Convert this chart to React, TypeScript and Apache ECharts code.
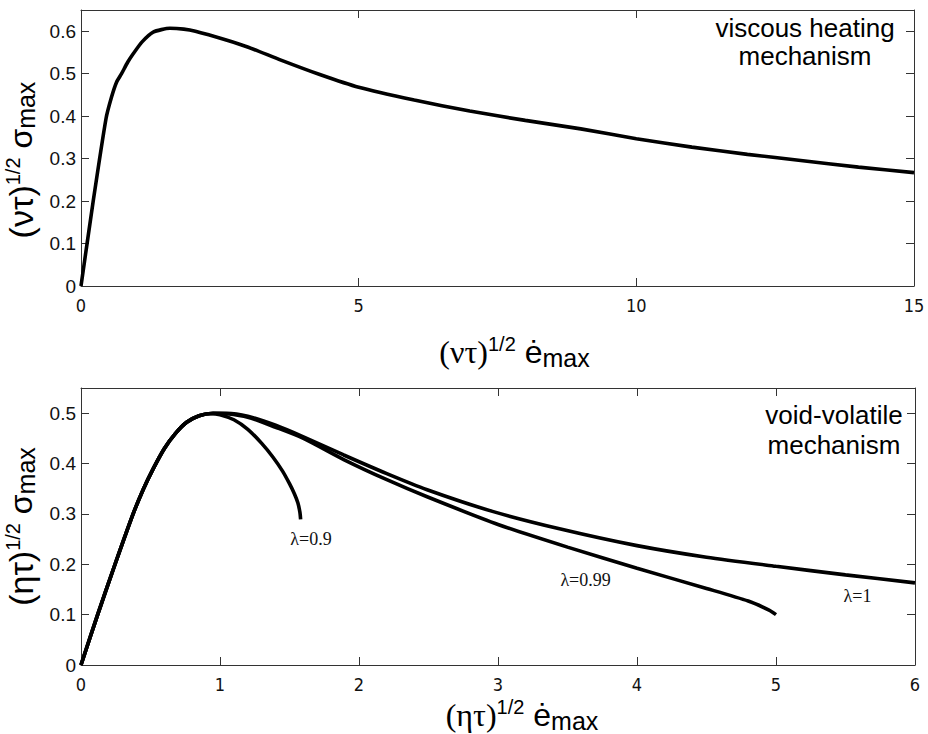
import React, { useEffect, useRef } from "react";
import * as echarts from "echarts";

// Top panel: viscous heating mechanism
const topX = [0, 0.22, 0.45, 0.55, 0.64, 0.73, 0.84, 0.94, 1.1, 1.3, 1.6, 1.85, 2.06, 2.6, 3.0, 3.6, 4.3, 5, 6, 7, 8, 9, 10, 11, 12, 13, 14, 15];
const topY = [0, 0.2, 0.394, 0.445, 0.48, 0.5, 0.527, 0.547, 0.575, 0.598, 0.607, 0.605, 0.6, 0.58, 0.563, 0.532, 0.498, 0.468, 0.438, 0.412, 0.39, 0.37, 0.347, 0.327, 0.31, 0.295, 0.28, 0.267];

// Bottom panel: void-volatile mechanism
const lam1X = [0, 0.12, 0.245, 0.375, 0.45, 0.52, 0.6, 0.68, 0.76, 0.85, 0.95, 1.05, 1.2, 1.4, 1.6, 1.89, 2.2, 2.49, 2.96, 3.45, 4.0, 4.5, 5.0, 5.5, 6.0];
const lam1Y = [0, 0.1, 0.2, 0.3, 0.35, 0.39, 0.43, 0.46, 0.482, 0.495, 0.5, 0.5, 0.494, 0.476, 0.453, 0.417, 0.38, 0.348, 0.305, 0.27, 0.237, 0.214, 0.196, 0.179, 0.163];

const lam099X = [0, 0.12, 0.245, 0.375, 0.45, 0.52, 0.6, 0.68, 0.76, 0.85, 0.95, 1.05, 1.2, 1.4, 1.6, 1.89, 2.2, 2.49, 3.0, 3.5, 4.0, 4.5, 4.8, 4.95, 5.0];
const lam099Y = [0, 0.1, 0.2, 0.3, 0.35, 0.39, 0.43, 0.46, 0.482, 0.495, 0.5, 0.499, 0.492, 0.472, 0.45, 0.408, 0.368, 0.334, 0.279, 0.234, 0.192, 0.152, 0.127, 0.109, 0.1];

const lam09X = [0, 0.12, 0.245, 0.375, 0.45, 0.52, 0.6, 0.68, 0.76, 0.85, 0.93, 1.0, 1.1, 1.2, 1.3, 1.38, 1.45, 1.5, 1.535, 1.56, 1.575, 1.58];
const lam09Y = [0, 0.1, 0.2, 0.3, 0.35, 0.39, 0.43, 0.46, 0.482, 0.495, 0.499, 0.497, 0.487, 0.468, 0.44, 0.413, 0.385, 0.36, 0.34, 0.322, 0.303, 0.289];

const topXTicks = { min: 0, max: 15, interval: 5 };
const topYTicks = { min: 0, max: 0.65, interval: 0.1 };
const botXTicks = { min: 0, max: 6, interval: 1 };
const botYTicks = { min: 0, max: 0.55, interval: 0.1 };

const lambdaLabels = [
  { text: "λ=0.9", x: 1.655, y: 0.25 },
  { text: "λ=0.99", x: 3.63, y: 0.168 },
  { text: "λ=1", x: 5.586, y: 0.137 },
];

const zip = (xs: number[], ys: number[]) => xs.map((x, i) => [x, ys[i]]);

const SANS = "'Liberation Sans', Arial, Helvetica, sans-serif";
const NARROW = "'Liberation Sans Narrow', 'DejaVu Sans Condensed', 'Liberation Sans', Arial, sans-serif";
const SERIF = "'Liberation Serif', 'Times New Roman', serif";
const AX = "#333";

const lineStyle = { color: AX, width: 1 };

function nameRich(serifParen: boolean) {
  return {
    p: { fontSize: serifParen ? 32 : 34, fontFamily: serifParen ? SERIF : SANS, color: "#000", lineHeight: 36 },
    s: { fontSize: 20, fontFamily: SANS, color: "#000", verticalAlign: "top", lineHeight: 20 },
    g: { fontSize: 32, fontFamily: SANS, color: "#000", lineHeight: 36 },
    b: { fontSize: 25, fontFamily: SANS, color: "#000", verticalAlign: "bottom", lineHeight: 25 },
  };
}

function xAxes(gridIndex: number, t: any, name: string, nameGap: number, padLeft: number) {
  return [
    {
      gridIndex,
      type: "value",
      ...t,
      position: "bottom",
      axisLine: { onZero: false, lineStyle },
      axisTick: { inside: true, length: 8, lineStyle },
      axisLabel: { fontSize: 18, fontFamily: NARROW, color: "#111", margin: 10, showMaxLabel: true },
      splitLine: { show: false },
      name,
      nameLocation: "middle",
      nameGap,
      nameTextStyle: { rich: nameRich(true), padding: [0, 0, 0, padLeft] },
    },
    {
      gridIndex,
      type: "value",
      ...t,
      position: "top",
      axisLine: { onZero: false, lineStyle },
      axisTick: { inside: true, length: 8, lineStyle },
      axisLabel: { show: false },
      splitLine: { show: false },
    },
  ];
}

function yAxes(gridIndex: number, t: any, name: string, nameGap: number, padRight: number) {
  return [
    {
      gridIndex,
      type: "value",
      ...t,
      position: "left",
      axisLine: { onZero: false, lineStyle },
      axisTick: { inside: true, length: 8, lineStyle },
      axisLabel: { fontSize: 19, fontFamily: SANS, color: "#111", margin: 5, showMaxLabel: false },
      splitLine: { show: false },
      name,
      nameLocation: "middle",
      nameGap,
      nameTextStyle: { rich: nameRich(false), padding: [0, padRight, 0, 0] },
    },
    {
      gridIndex,
      type: "value",
      ...t,
      position: "right",
      axisLine: { onZero: false, lineStyle },
      axisTick: { inside: true, length: 8, lineStyle },
      axisLabel: { show: false },
      splitLine: { show: false },
    },
  ];
}

export default function App() {
  const ref = useRef<HTMLDivElement>(null);
  useEffect(() => {
    if (!ref.current) return;
    const chart = echarts.init(ref.current, null, { renderer: "svg" });
    const curve = { type: "line", showSymbol: false, symbol: "none", lineStyle: { color: "#000", width: 3.6 }, z: 3 };
    const option: any = {
      animation: false,
      backgroundColor: "#fff",
      grid: [
        { left: 81, right: 14, top: 10, height: 276, containLabel: false, outerBoundsMode: "none" },
        { left: 81, right: 13, top: 388, height: 277, containLabel: false, outerBoundsMode: "none" },
      ],
      xAxis: [
        ...xAxes(0, topXTicks, "{p|(ντ)}{s|1/2}{g| ė}{b|max}", 48, 34),
        ...xAxes(1, botXTicks, "{p|(ητ)}{s|1/2}{g| ė}{b|max}", 32, 48),
      ],
      yAxis: [
        ...yAxes(0, topYTicks, "{p|(ντ)}{s|1/2}{g| σ}{b|max}", 38, 24),
        ...yAxes(1, botYTicks, "{p|(ητ)}{s|1/2}{g| σ}{b|max}", 36, 0),
      ],
      series: [
        { ...curve, name: "viscous", xAxisIndex: 0, yAxisIndex: 0, smooth: 0.2, data: zip(topX, topY) },
        { ...curve, name: "λ=1", xAxisIndex: 2, yAxisIndex: 2, smooth: 0.25, data: zip(lam1X, lam1Y) },
        { ...curve, name: "λ=0.99", xAxisIndex: 2, yAxisIndex: 2, smooth: 0.25, data: zip(lam099X, lam099Y) },
        {
          ...curve,
          name: "λ=0.9",
          xAxisIndex: 2,
          yAxisIndex: 2,
          smooth: 0.25,
          data: zip(lam09X, lam09Y),
          markPoint: {
            symbol: "circle",
            symbolSize: 1,
            itemStyle: { color: "rgba(0,0,0,0)" },
            label: { show: true, position: "inside", fontFamily: SERIF, fontSize: 18, color: "#111", formatter: (p: any) => p.name },
            data: lambdaLabels.map((l) => ({ name: l.text, coord: [l.x, l.y] })),
          },
        },
      ],
      graphic: [
        {
          type: "text",
          x: 805,
          y: 14,
          style: { text: "viscous heating\nmechanism", font: `26px ${SANS}`, fill: "#000", textAlign: "center", textVerticalAlign: "top", lineHeight: 28 },
        },
        {
          type: "text",
          x: 834,
          y: 400,
          style: { text: "void-volatile\nmechanism", font: `26px ${SANS}`, fill: "#000", textAlign: "center", textVerticalAlign: "top", lineHeight: 30 },
        },
      ],
    };
    chart.setOption(option);
    return () => chart.dispose();
  }, []);
  return <div ref={ref} style={{ position: "fixed", left: 0, top: 0, width: 928, height: 734, background: "#fff" }} />;
}
